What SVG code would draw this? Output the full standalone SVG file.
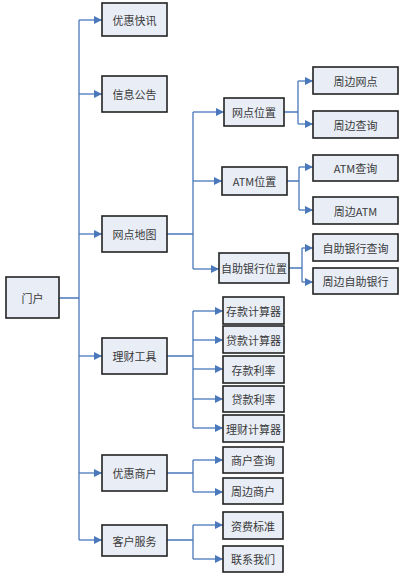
<svg xmlns="http://www.w3.org/2000/svg" width="402" height="577" viewBox="0 0 402 577">
<style>
.box{fill:#e8edf6;stroke:#222;stroke-width:1.6}
.t{font-family:"Noto Sans CJK SC","Noto Sans",sans-serif;font-size:11px;fill:#3a3a3a;text-anchor:middle;dominant-baseline:central}
.c{stroke:#4a78bb;stroke-width:1.3;fill:none}
.a{stroke:#4a78bb;stroke-width:1.3;fill:none;marker-end:url(#ah)}
</style>
<defs>
<marker id="ah" markerUnits="userSpaceOnUse" markerWidth="9" markerHeight="9" refX="8" refY="4" orient="auto" viewBox="0 0 9 8">
<path d="M0,0 L8,4 L0,8 z" fill="#4a78bb"/>
</marker>
</defs>
<rect width="402" height="577" fill="#fff"/>
<g id="connectors">
<path class="c" d="M59,298 H79 M79,20 V540"/>
<path class="a" d="M79,20 H102"/>
<path class="a" d="M79,94 H102"/>
<path class="a" d="M79,234 H102"/>
<path class="a" d="M79,356 H102"/>
<path class="a" d="M79,473 H102"/>
<path class="a" d="M79,540 H102"/>
<path class="c" d="M167,234 H193 M193,112 V269"/>
<path class="a" d="M193,112 H224"/>
<path class="a" d="M193,181 H222"/>
<path class="a" d="M193,269 H219"/>
<path class="c" d="M284,112 H298 M298,81 V124"/>
<path class="a" d="M298,81 H313"/>
<path class="a" d="M298,124 H313"/>
<path class="c" d="M287,181 H299 M299,167 V210"/>
<path class="a" d="M299,167 H313"/>
<path class="a" d="M299,210 H313"/>
<path class="c" d="M289,268 H302 M302,248 V282"/>
<path class="a" d="M302,248 H313"/>
<path class="a" d="M302,282 H313"/>
<path class="c" d="M167,356 H193 M193,311 V428"/>
<path class="a" d="M193,311 H223"/>
<path class="a" d="M193,340 H223"/>
<path class="a" d="M193,369 H223"/>
<path class="a" d="M193,399 H223"/>
<path class="a" d="M193,428 H223"/>
<path class="c" d="M167,473 H193 M193,460 V492"/>
<path class="a" d="M193,460 H223"/>
<path class="a" d="M193,492 H223"/>
<path class="c" d="M167,540 H193 M193,525 V559"/>
<path class="a" d="M193,525 H223"/>
<path class="a" d="M193,559 H223"/>
</g>
<g id="menhu"><rect class="box" x="6" y="277" width="53" height="41"/><text class="t" x="32.5" y="297.5">门户</text></g>
<g id="youhuikuaixun"><rect class="box" x="102" y="3" width="65" height="33"/><text class="t" x="134.5" y="19.5">优惠快讯</text></g>
<g id="xinxigonggao"><rect class="box" x="102" y="76" width="65" height="36"/><text class="t" x="134.5" y="94">信息公告</text></g>
<g id="wangdianditu"><rect class="box" x="102" y="216" width="65" height="36"/><text class="t" x="134.5" y="234">网点地图</text></g>
<g id="licaigongju"><rect class="box" x="102" y="338" width="65" height="36"/><text class="t" x="134.5" y="356">理财工具</text></g>
<g id="youhuishanghu"><rect class="box" x="102" y="455" width="65" height="36"/><text class="t" x="134.5" y="473">优惠商户</text></g>
<g id="kehufuwu"><rect class="box" x="102" y="525" width="65" height="31"/><text class="t" x="134.5" y="540.5">客户服务</text></g>
<g id="wangdianweizhi"><rect class="box" x="224" y="98" width="60" height="28"/><text class="t" x="254" y="112">网点位置</text></g>
<g id="atmweizhi"><rect class="box" x="222" y="167" width="65" height="28"/><text class="t" x="254.5" y="181">ATM位置</text></g>
<g id="zizhuyinhangweizhi"><rect class="box" x="219" y="253" width="70" height="30"/><text class="t" x="254" y="268">自助银行位置</text></g>
<g id="zhoubianwangdian"><rect class="box" x="313" y="67" width="85" height="27"/><text class="t" x="355.5" y="80.5">周边网点</text></g>
<g id="zhoubianchaxun"><rect class="box" x="313" y="111" width="85" height="27"/><text class="t" x="355.5" y="124.5">周边查询</text></g>
<g id="atmchaxun"><rect class="box" x="313" y="155" width="85" height="26"/><text class="t" x="355.5" y="168">ATM查询</text></g>
<g id="zhoubianatm"><rect class="box" x="313" y="197" width="85" height="27"/><text class="t" x="355.5" y="210.5">周边ATM</text></g>
<g id="zizhuchaxun"><rect class="box" x="313" y="234" width="85" height="27"/><text class="t" x="355.5" y="247.5">自助银行查询</text></g>
<g id="zhoubianzizhu"><rect class="box" x="313" y="268" width="85" height="26"/><text class="t" x="355.5" y="281">周边自助银行</text></g>
<g id="cunkuanjisuanqi"><rect class="box" x="223" y="297" width="61" height="27"/><text class="t" x="253.5" y="310.5">存款计算器</text></g>
<g id="daikuanjisuanqi"><rect class="box" x="223" y="326" width="61" height="27"/><text class="t" x="253.5" y="339.5">贷款计算器</text></g>
<g id="cunkuanlilv"><rect class="box" x="223" y="356" width="61" height="27"/><text class="t" x="253.5" y="369.5">存款利率</text></g>
<g id="daikuanlilv"><rect class="box" x="223" y="386" width="61" height="26"/><text class="t" x="253.5" y="399">贷款利率</text></g>
<g id="licaijisuanqi"><rect class="box" x="223" y="415" width="61" height="27"/><text class="t" x="253.5" y="428.5">理财计算器</text></g>
<g id="shanghuchaxun"><rect class="box" x="223" y="447" width="60" height="26"/><text class="t" x="253" y="460">商户查询</text></g>
<g id="zhoubianshanghu"><rect class="box" x="223" y="478" width="60" height="26"/><text class="t" x="253" y="491">周边商户</text></g>
<g id="zifeibiaozhun"><rect class="box" x="223" y="512" width="60" height="27"/><text class="t" x="253" y="525.5">资费标准</text></g>
<g id="lianxiwomen"><rect class="box" x="223" y="546" width="60" height="26"/><text class="t" x="253" y="559">联系我们</text></g>
</svg>
